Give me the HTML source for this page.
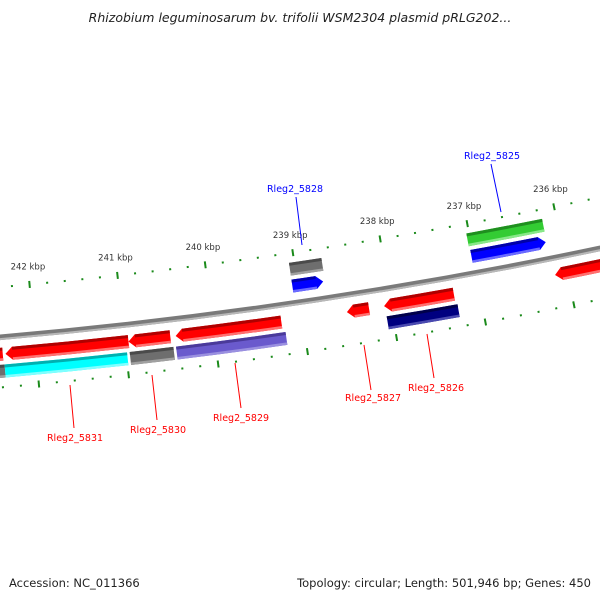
<!DOCTYPE html>
<html><head><meta charset="utf-8">
<style>
html,body{margin:0;padding:0;background:#fff;}
svg{display:block;}
text{font-family:"DejaVu Sans","Liberation Sans",sans-serif;}
</style></head>
<body>
<svg id="map" width="600" height="600" viewBox="0 0 600 600" xmlns="http://www.w3.org/2000/svg">
  <text x="300" y="22" text-anchor="middle" font-size="12.5" font-style="italic" fill="#222">Rhizobium leguminosarum bv. trifolii WSM2304 plasmid pRLG202...</text>
  <g id="backbone"></g>
  <g id="ticks"></g>
  <g id="features"></g>
  <g id="labels">
    <line x1="296" y1="197" x2="302" y2="245" stroke="#0000ff" stroke-width="1"/>
    <text x="295" y="192" text-anchor="middle" font-size="9.5" fill="#0000ff">Rleg2_5828</text>
    <line x1="491" y1="164" x2="501" y2="212" stroke="#0000ff" stroke-width="1"/>
    <text x="492" y="159" text-anchor="middle" font-size="9.5" fill="#0000ff">Rleg2_5825</text>
    <line x1="70" y1="385" x2="74" y2="428" stroke="#ff0000" stroke-width="1"/>
    <text x="75" y="441" text-anchor="middle" font-size="9.5" fill="#ff0000">Rleg2_5831</text>
    <line x1="152" y1="375" x2="157" y2="420" stroke="#ff0000" stroke-width="1"/>
    <text x="158" y="433" text-anchor="middle" font-size="9.5" fill="#ff0000">Rleg2_5830</text>
    <line x1="235" y1="363" x2="241" y2="408" stroke="#ff0000" stroke-width="1"/>
    <text x="241" y="421" text-anchor="middle" font-size="9.5" fill="#ff0000">Rleg2_5829</text>
    <line x1="364" y1="345" x2="371" y2="390" stroke="#ff0000" stroke-width="1"/>
    <text x="373" y="401" text-anchor="middle" font-size="9.5" fill="#ff0000">Rleg2_5827</text>
    <line x1="427" y1="334" x2="434" y2="378" stroke="#ff0000" stroke-width="1"/>
    <text x="436" y="391" text-anchor="middle" font-size="9.5" fill="#ff0000">Rleg2_5826</text>
  </g>
  <text x="9" y="587" font-size="11.5" fill="#222">Accession: NC_011366</text>
  <text x="591" y="587" text-anchor="end" font-size="11.5" fill="#222">Topology: circular; Length: 501,946 bp; Genes: 450</text>
</svg>
<script>
// ---- data (kbp) ----
const majorTicks = [243, 242, 241, 240, 239, 238, 237, 236, 235];
const tickLabels = ["243 kbp","242 kbp","241 kbp","240 kbp","239 kbp","238 kbp","237 kbp","236 kbp","235 kbp"];
const featStart = [239.06, 237.02, 239.06, 237.03, 242.34, 240.96, 240.43, 238.50, 238.08, 236.14, 242.70, 242.70, 242.36, 240.96, 240.44, 238.07];
const featEnd   = [238.71, 236.17, 238.69, 236.16, 240.96, 240.49, 239.24, 238.25, 237.29, 235.20, 242.37, 242.36, 240.99, 240.47, 239.21, 237.27];
const featTrack = [-1, -1, -2, -2, 1, 1, 1, 1, 1, 1, 1, 2, 2, 2, 2, 2];
const featTip   = ["right","right","none","none","left","left","left","left","left","left","none","none","none","none","none","none"];
const featColor = ["blue","blue","gray","green","red","red","red","red","red","red","red","gray","cyan","gray","purple","navy"];
const featName  = ["rleg2-5828","rleg2-5825","gene-gray-inner","gene-green","rleg2-5831","rleg2-5830","rleg2-5829","rleg2-5827","rleg2-5826","gene-red-right","gene-red-left","gene-gray-left","gene-cyan","gene-gray-5830","gene-purple","gene-navy"];

// ---- geometry ----
const CX=-432, CY=-4644, R0=5000;
const TH0=81.58, DEG_PER_KBP=1.0233, REF=239;
const NS="http://www.w3.org/2000/svg";
function ang(bp){return (TH0+(bp-REF)*DEG_PER_KBP)*Math.PI/180;}
function pt(bp,r){const a=ang(bp);return [CX+r*Math.cos(a),CY+r*Math.sin(a)];}
function ptA(a,r){return [CX+r*Math.cos(a),CY+r*Math.sin(a)];}
function f(p){return p[0].toFixed(2)+" "+p[1].toFixed(2);}
const palette={
 red:["#ff0000","#b00000","#ff7070"], blue:["#0000ff","#0000a8","#6a6aff"],
 gray:["#6e6e6e","#4a4a4a","#a0a0a0"], green:["#33cc33","#1f8f1f","#88e888"],
 cyan:["#00ffff","#00b0b0","#80ffff"], purple:["#6a5acd","#4a3a9a","#9a90e0"],
 navy:["#000080","#00004a","#4a4ab0"]};
function band(aHigh,aLow,rIn,rOut,tip,tipLen){
  const rMid=(rIn+rOut)/2;
  let d="";
  if(tip==="left"){
    const ta=tipLen/rMid;
    d="M"+f(ptA(aLow,rOut))+" A"+rOut+" "+rOut+" 0 0 1 "+f(ptA(aHigh-ta,rOut))+
      " L"+f(ptA(aHigh,rMid))+" L"+f(ptA(aHigh-ta,rIn))+" A"+rIn+" "+rIn+" 0 0 0 "+f(ptA(aLow,rIn))+"Z";
  } else if(tip==="right"){
    const ta=tipLen/rMid;
    d="M"+f(ptA(aLow+ta,rOut))+" A"+rOut+" "+rOut+" 0 0 1 "+f(ptA(aHigh,rOut))+
      " L"+f(ptA(aHigh,rIn))+" A"+rIn+" "+rIn+" 0 0 0 "+f(ptA(aLow+ta,rIn))+" L"+f(ptA(aLow,rMid))+"Z";
  } else {
    d="M"+f(ptA(aLow,rOut))+" A"+rOut+" "+rOut+" 0 0 1 "+f(ptA(aHigh,rOut))+
      " L"+f(ptA(aHigh,rIn))+" A"+rIn+" "+rIn+" 0 0 0 "+f(ptA(aLow,rIn))+"Z";
  }
  return d;
}
function mk(tag,attrs,parent){const e=document.createElementNS(NS,tag);for(const k in attrs)e.setAttribute(k,attrs[k]);parent.appendChild(e);return e;}

// backbone
const bb=document.getElementById("backbone");
const aL=ang(245), aR=ang(234);
let e=mk("path",{d:band(aL,aR,R0-2.8,R0+2.8,"none",0),fill:"#7a7a7a"},bb);


e=mk("path",{d:band(aL,aR,R0+0.8,R0+2.8,"none",0),fill:"#b8b8b8"},bb);



// ticks
const tg=document.getElementById("ticks");
const tickR=[R0-50, R0+50];
for(const tr of tickR){
  for(let i=0;i<majorTicks.length;i++){
    const m=majorTicks[i];
    const a=ang(m);
    const p1=ptA(a,tr-3.5), p2=ptA(a,tr+3.5);
    const t=mk("line",{x1:p1[0],y1:p1[1],x2:p2[0],y2:p2[1],stroke:"#1a8a1a","stroke-width":2},tg);
    
    
    if(i<majorTicks.length-1){
      for(let k=1;k<5;k++){
        const b=m-k*0.2;
        const q1=pt(b,tr-1), q2=pt(b,tr+1);
        const mt=mk("line",{x1:q1[0],y1:q1[1],x2:q2[0],y2:q2[1],stroke:"#1a8a1a","stroke-width":2},tg);
        
        
      }
    }
    if(tr<R0){
      const lp=ptA(a,R0-68);
      const lt=mk("text",{x:lp[0].toFixed(1),y:(lp[1]+3).toFixed(1),"text-anchor":"middle","font-size":"8.5",fill:"#333"},tg);
      lt.textContent=tickLabels[i];
      
      
    }
  }
}

// features
const fg=document.getElementById("features");
const W=13;
for(let i=0;i<featStart.length;i++){
  const tr=featTrack[i];
  const rc=R0+tr*17;
  const rIn=rc-W/2, rOut=rc+W/2;
  const a1=ang(featStart[i]), a2=ang(featEnd[i]);
  const aHigh=Math.max(a1,a2), aLow=Math.min(a1,a2);
  const c=palette[featColor[i]];
  const g=mk("g",{},fg);
  
  
  mk("path",{d:band(aHigh,aLow,rIn,rOut,featTip[i],7),fill:c[0]},g);
  const tipLen=7/rc;
  const sH=featTip[i]==="left"?aHigh-tipLen:aHigh;
  const sL=featTip[i]==="right"?aLow+tipLen:aLow;
  mk("path",{d:band(sH,sL,rIn,rIn+3,"none",0),fill:c[1]},g);
  mk("path",{d:band(sH,sL,rOut-2.5,rOut,"none",0),fill:c[2]},g);
}
</script>
</body></html>
